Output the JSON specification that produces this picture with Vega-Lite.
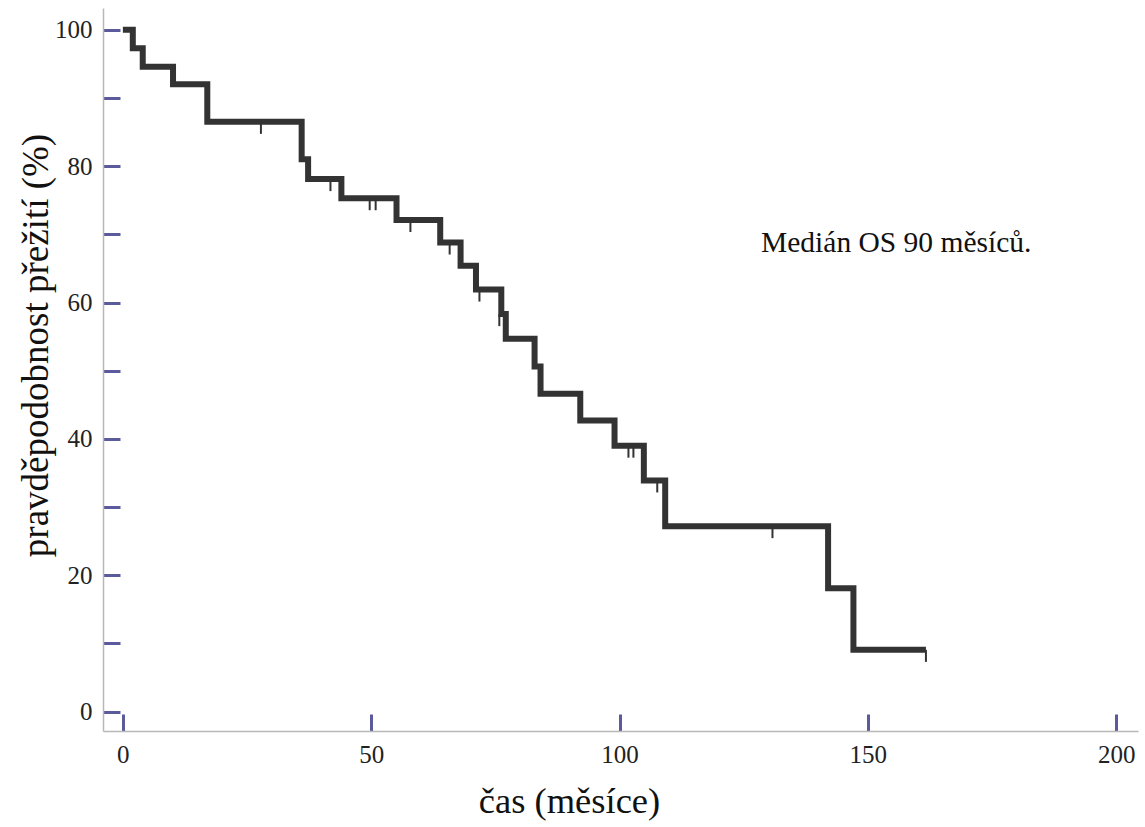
{
  "$schema": "https://vega.github.io/schema/vega-lite/v6.json",
  "width": 1035,
  "height": 723,
  "autosize": {"type": "none"},
  "padding": {"left": 103, "top": 8, "right": 7, "bottom": 96},
  "background": "white",
  "config": {
    "view": {"stroke": null},
    "font": "Liberation Serif",
    "axis": {
      "titleFont": "Liberation Serif",
      "labelFont": "Liberation Serif",
      "titleFontWeight": "normal"
    },
    "text": {"font": "Liberation Serif"}
  },
  "datasets": {
    "survival": [
      {"cas": 0, "preziti": 100},
      {"cas": 2.0, "preziti": 97.3},
      {"cas": 4.0, "preziti": 94.6},
      {"cas": 10.1, "preziti": 92.0},
      {"cas": 17.0, "preziti": 86.5},
      {"cas": 36.0, "preziti": 81.0},
      {"cas": 37.3, "preziti": 78.1},
      {"cas": 44.0, "preziti": 75.3},
      {"cas": 55.1, "preziti": 72.1},
      {"cas": 63.9, "preziti": 68.8},
      {"cas": 68.0, "preziti": 65.4},
      {"cas": 71.1, "preziti": 61.9},
      {"cas": 76.2, "preziti": 58.3},
      {"cas": 77.1, "preziti": 54.7},
      {"cas": 82.9, "preziti": 50.6},
      {"cas": 84.1, "preziti": 46.6},
      {"cas": 92.1, "preziti": 42.7},
      {"cas": 99.0, "preziti": 39.0},
      {"cas": 104.9, "preziti": 33.9},
      {"cas": 109.2, "preziti": 27.2},
      {"cas": 142.0, "preziti": 18.1},
      {"cas": 147.1, "preziti": 9.05},
      {"cas": 161.7, "preziti": 9.05}
    ],
    "censored": [
      {"cas": 27.8, "preziti": 86.5},
      {"cas": 41.8, "preziti": 78.1},
      {"cas": 49.7, "preziti": 75.3},
      {"cas": 50.9, "preziti": 75.3},
      {"cas": 57.9, "preziti": 72.1},
      {"cas": 65.8, "preziti": 68.8},
      {"cas": 71.8, "preziti": 61.9},
      {"cas": 75.8, "preziti": 58.3},
      {"cas": 101.8, "preziti": 39.0},
      {"cas": 102.8, "preziti": 39.0},
      {"cas": 107.6, "preziti": 33.9},
      {"cas": 130.8, "preziti": 27.2},
      {"cas": 161.7, "preziti": 9.05}
    ],
    "note": [
      {"cas": 128.5, "preziti": 67.4, "text": "Medián OS 90 měsíců."}
    ]
  },
  "layer": [
    {
      "data": {"name": "survival"},
      "mark": {
        "type": "line",
        "interpolate": "step-after",
        "color": "#333333",
        "strokeWidth": 6,
        "strokeJoin": "miter",
        "strokeCap": "butt"
      },
      "encoding": {
        "x": {
          "field": "cas",
          "type": "quantitative",
          "scale": {"domain": [-4, 204.4], "nice": false, "zero": false},
          "axis": {
            "title": "čas (měsíce)",
            "titleFont": "Liberation Serif",
            "titleFontSize": 36.5,
            "titleFontWeight": "normal",
            "titleColor": "#111111",
            "titleBaseline": "alphabetic",
            "titleAnchor": "middle",
            "titleX": 466,
            "titleY": 81,
            "values": [0, 50, 100, 150, 200],
            "grid": false,
            "domainColor": "#b8b8b8",
            "domainWidth": 1.5,
            "tickColor": "#5a5a9c",
            "tickWidth": 3,
            "tickSize": -17,
            "labelFont": "Liberation Serif",
            "labelFontSize": 25,
            "labelColor": "#222222",
            "labelPadding": 28,
            "labelFlush": false,
            "labelOverlap": false
          }
        },
        "y": {
          "field": "preziti",
          "type": "quantitative",
          "scale": {"domain": [-2.85, 103.2], "nice": false, "zero": false},
          "axis": {
            "title": "pravděpodobnost přežití (%)",
            "titleFont": "Liberation Serif",
            "titleFontSize": 37,
            "titleFontWeight": "normal",
            "titleColor": "#111111",
            "titleAngle": -90,
            "titleBaseline": "alphabetic",
            "titleAlign": "center",
            "titleX": -56,
            "titleY": 337,
            "values": [0, 10, 20, 30, 40, 50, 60, 70, 80, 90, 100],
            "labelExpr": "datum.value % 20 === 0 ? datum.label : ''",
            "grid": false,
            "domainColor": "#b8b8b8",
            "domainWidth": 1.5,
            "tickColor": "#5a5a9c",
            "tickWidth": 3,
            "tickSize": -17,
            "labelFont": "Liberation Serif",
            "labelFontSize": 25,
            "labelColor": "#222222",
            "labelPadding": 28,
            "labelFlush": false,
            "labelOverlap": false,
            "encode": {
              "ticks": {
                "update": {
                  "x2": {"signal": "datum.value % 20 === 0 ? 17 : 9"}
                }
              }
            }
          }
        }
      }
    },
    {
      "data": {"name": "censored"},
      "mark": {
        "type": "tick",
        "orient": "vertical",
        "color": "#333333",
        "opacity": 1,
        "size": 12,
        "thickness": 2,
        "yOffset": 6
      },
      "encoding": {
        "x": {"field": "cas", "type": "quantitative"},
        "y": {"field": "preziti", "type": "quantitative"}
      }
    },
    {
      "data": {"name": "note"},
      "mark": {
        "type": "text",
        "font": "Liberation Serif",
        "fontSize": 29.5,
        "color": "#111111",
        "align": "left",
        "baseline": "alphabetic"
      },
      "encoding": {
        "x": {"field": "cas", "type": "quantitative"},
        "y": {"field": "preziti", "type": "quantitative"},
        "text": {"field": "text"}
      }
    }
  ]
}
